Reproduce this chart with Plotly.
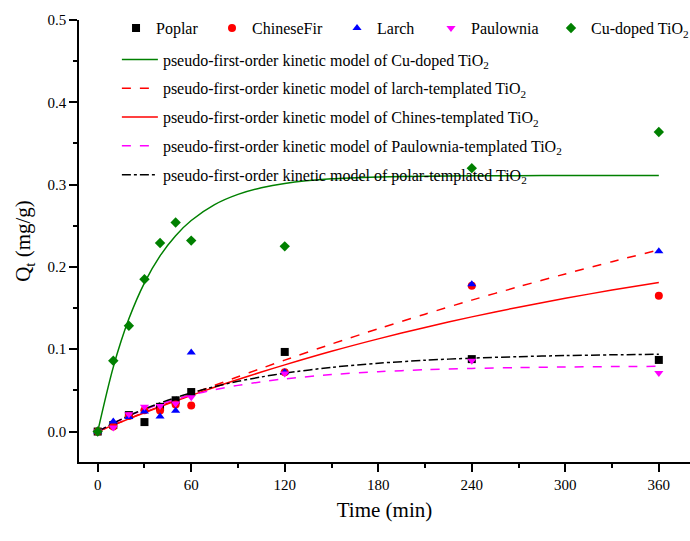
import plotly.graph_objects as go

# ---------------- data ----------------
t_data = [0, 10, 20, 30, 40, 50, 60, 120, 240, 360]
poplar = [0.0, 0.008, 0.020, 0.0115, 0.030, 0.038, 0.048, 0.0967, 0.088, 0.087]
chinese_fir = [0.0, 0.006, 0.019, 0.026, 0.0257, 0.033, 0.0315, 0.072, 0.177, 0.165]
larch = [0.0, 0.0122, 0.0176, 0.0245, 0.0184, 0.0253, 0.096, 0.072, 0.179, 0.219]
paulownia = [0.0, 0.005, 0.021, 0.030, 0.031, 0.034, 0.0416, 0.0706, 0.086, 0.071]
cu_doped = [0.0, 0.086, 0.1286, 0.185, 0.229, 0.254, 0.232, 0.225, 0.320, 0.364]

t_model = [0, 10, 20, 30, 40, 50, 60, 75, 90, 105, 120, 150, 180, 210, 240, 270, 300, 330, 360]
model_cu = [0.0, 0.0783, 0.1369, 0.1807, 0.2135, 0.2380, 0.2564, 0.2757, 0.2881, 0.2962,
            0.3014, 0.3070, 0.3093, 0.3103, 0.3107, 0.3109, 0.3110, 0.3110, 0.3110]
model_larch = [0.0, 0.0078, 0.0156, 0.0232, 0.0307, 0.0381, 0.0455, 0.0561, 0.0665, 0.0768,
               0.0868, 0.1063, 0.1249, 0.1426, 0.1597, 0.1759, 0.1915, 0.2064, 0.2207]
model_chinese = [0.0, 0.0078, 0.0154, 0.0229, 0.0301, 0.0371, 0.0439, 0.0538, 0.0633, 0.0723,
                 0.0810, 0.0975, 0.1126, 0.1265, 0.1393, 0.1511, 0.1619, 0.1719, 0.1811]
model_paulownia = [0.0, 0.0101, 0.0189, 0.0265, 0.0333, 0.0391, 0.0443, 0.0508, 0.0561, 0.0604,
                   0.0640, 0.0692, 0.0727, 0.0751, 0.0767, 0.0777, 0.0784, 0.0789, 0.0792]
model_polar = [0.0, 0.0102, 0.0193, 0.0275, 0.0347, 0.0412, 0.0470, 0.0546, 0.0610, 0.0663,
               0.0709, 0.0780, 0.0830, 0.0866, 0.0892, 0.0910, 0.0923, 0.0932, 0.0939]

x_ticks = [0, 60, 120, 180, 240, 300, 360]
y_ticks = [0.0, 0.1, 0.2, 0.3, 0.4, 0.5]

FONT = "Liberation Serif"

fig = go.Figure()

# model lines (legend2)
lines = [
    ("pseudo-first-order kinetic model of Cu-doped TiO<sub>2</sub>", model_cu, "#008000", "solid"),
    ("pseudo-first-order kinetic model of larch-templated TiO<sub>2</sub>", model_larch, "#ff0000", "dash"),
    ("pseudo-first-order kinetic model of Chines-templated TiO<sub>2</sub>", model_chinese, "#ff0000", "solid"),
    ("pseudo-first-order kinetic model of Paulownia-templated TiO<sub>2</sub>", model_paulownia, "#ff00ff", "dash"),
    ("pseudo-first-order kinetic model of polar-templated TiO<sub>2</sub>", model_polar, "#000000", "dashdot"),
]
for i, (name, ys, col, dash) in enumerate(lines):
    fig.add_trace(go.Scatter(
        x=t_model, y=ys, mode="lines", name=name, showlegend=True,
        line=dict(color=col, width=1.5, dash=dash, shape="spline", smoothing=0.8),
        legend="legend2", legendgroup=f"g{i}",
    ))

# data markers, each with its own legend box so the top row can be placed like the reference
markers = [
    ("Poplar", poplar, "#000000", "square", "legend", 0.0606),
    ("ChineseFir", chinese_fir, "#ff0000", "circle", "legend3", 0.2177),
    ("Larch", larch, "#0000ff", "triangle-up", "legend4", 0.4223),
    ("Paulownia", paulownia, "#ff00ff", "triangle-down", "legend5", 0.5761),
    ("Cu-doped TiO<sub>2</sub>", cu_doped, "#008000", "diamond", "legend6", 0.7725),
]
legend_boxes = {}
for name, ys, col, sym, lg, lx in markers:
    fig.add_trace(go.Scatter(
        x=t_data, y=ys, mode="markers", name=name, showlegend=True,
        marker=dict(color=col, symbol=sym, size=8, line=dict(width=0)),
        legend=lg,
    ))
    legend_boxes[lg] = dict(
        orientation="h", x=lx, y=1.02, xanchor="left", yanchor="top",
        bgcolor="rgba(0,0,0,0)", font=dict(family=FONT, size=16, color="black"),
        itemwidth=30, visible=True,
    )

fig.update_layout(
    width=690, height=541,
    showlegend=True,
    margin=dict(l=79, r=0, t=20, b=79, autoexpand=False),
    plot_bgcolor="white", paper_bgcolor="white",
    font=dict(family=FONT, size=15, color="black"),
    legend2=dict(
        orientation="v", x=0.062, y=0.949, xanchor="left", yanchor="top",
        bgcolor="rgba(0,0,0,0)", font=dict(family=FONT, size=16, color="black"),
        tracegroupgap=5, itemwidth=36,
    ),
    xaxis=dict(
        range=[-12, 380], tickvals=x_ticks, ticktext=[str(v) for v in x_ticks],
        ticks="outside", ticklen=8, tickwidth=1.5, tickcolor="black",
        minor=dict(dtick=30, tick0=0, ticks="outside", ticklen=4, tickwidth=1.5, tickcolor="black"),
        showline=True, linecolor="black", linewidth=1.5, mirror=False,
        showgrid=False, zeroline=False, automargin=False,
        title=dict(text="Time (min)", font=dict(family=FONT, size=21, color="black"), standoff=11),
        tickfont=dict(family=FONT, size=15, color="black"),
    ),
    yaxis=dict(
        range=[-0.037, 0.5], tickvals=y_ticks, tickformat=".1f",
        ticks="outside", ticklen=8, tickwidth=1.5, tickcolor="black",
        minor=dict(dtick=0.05, tick0=0, ticks="outside", ticklen=4, tickwidth=1.5, tickcolor="black"),
        showline=True, linecolor="black", linewidth=1.5, mirror=False,
        showgrid=False, zeroline=False, automargin=False,
        title=dict(text="Q<sub>t</sub> (mg/g)", font=dict(family=FONT, size=21, color="black"), standoff=11),
        tickfont=dict(family=FONT, size=15, color="black"),
    ),
)
fig.update_layout(**legend_boxes)

fig.write_html("out.html", config={"displayModeBar": False},
               post_script="document.body.style.margin='0';")
